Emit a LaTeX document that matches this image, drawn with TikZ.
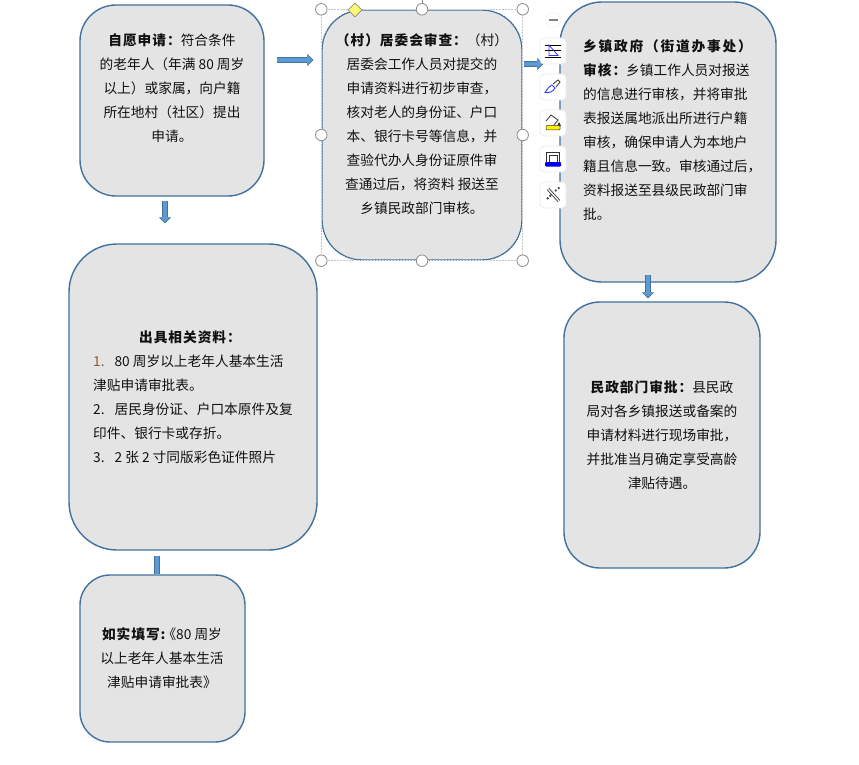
\documentclass[tikz,border=0pt]{standalone}
\usepackage{fontspec}
\setmainfont{Noto Sans CJK SC}
\usetikzlibrary{arrows.meta,shapes.geometric,calc}
\definecolor{boxfill}{HTML}{E4E4E4}
\definecolor{boxline}{HTML}{41719C}
\definecolor{arrowfill}{HTML}{5B9BD5}
\definecolor{handleline}{HTML}{8A8A8A}
\definecolor{ink}{HTML}{111111}
\newcommand{\boldrun}[1]{{\bfseries\addfontfeature{LetterSpace=7}#1}}
\newcommand{\boldwide}[1]{{\bfseries\addfontfeature{LetterSpace=13}#1}}
\tikzset{
  flowbox/.style={draw=boxline,fill=boxfill,line width=1.4pt,rounded corners=#1,inner sep=0pt},
  flowtext/.style={inner sep=0pt,text=ink,font=\fontsize{13.7}{24}\selectfont,align=center},
  lefttext/.style={flowtext,align=left,anchor=west},
  blockarrow/.style={draw=boxline,line width=0.7pt,double=arrowfill,double distance=3.8pt,
    -{Triangle[length=6pt,width=12pt,fill=arrowfill,line width=0.6pt]}},
  blockshaft/.style={draw=boxline,line width=0.7pt,double=arrowfill,double distance=3.8pt},
  handle/.style={circle,draw=handleline,fill=white,line width=0.8pt,minimum size=11.5pt,inner sep=0pt},
  toolbtn/.style={draw=black!7,fill=white,rounded corners=4pt,minimum size=26pt,inner sep=0pt,line width=0.8pt},
}
\begin{document}
\begin{tikzpicture}[x=1pt,y=-1pt]
\useasboundingbox (0,0) rectangle (859,765);
\fill[white] (0,0) rectangle (859,765);
% boxes
\node[flowbox=36pt,minimum width=184pt,minimum height=191pt] (a) at (172,100.5) {};
\node[flowbox=40pt,minimum width=200pt,minimum height=250pt] (b) at (422,135) {};
\node[flowbox=42pt,minimum width=216pt,minimum height=280pt] (c) at (668,142) {};
\node[flowbox=36pt,minimum width=196pt,minimum height=266pt] (d) at (662,435) {};
\node[flowbox=48pt,minimum width=248pt,minimum height=306pt] (e) at (193,397) {};
\node[flowbox=30pt,minimum width=165pt,minimum height=167pt] (f) at (162.5,658.5) {};
% arrows
\draw[blockarrow] ($(a.east)+(12,-40.5)$) -- ($(b.west)+(-8,-75)$);
\draw[blockarrow] ($(b.east)+(1,-71)$) -- ($(c.west)+(-16,-78)$);
\draw[blockarrow] ($(a.south)+(-7,4)$) -- ($(e.north)+(-28,-20)$);
\draw[blockarrow] ($(c.south)+(-20,-8)$) -- ($(d.north)+(-14,-3)$);
\draw[blockshaft] ($(e.south)+(-36,5)$) -- ($(f.north)+(-5.5,-0.7)$);
% texts
\node[flowtext] (ta) at (172,88) {\boldrun{自愿申请：}符合条件\\的老年人（年满 80 周岁\\以上）或家属，向户籍\\所在地村（社区）提出\\申请。};
\node[flowtext] (tb) at (422,124) {\boldrun{（村）居委会审查：}（村）\\居委会工作人员对提交的\\申请资料进行初步审查，\\核对老人的身份证、户口\\本、银行卡号等信息，并\\查验代办人身份证原件审\\查通过后，将资料 报送至\\乡镇民政部门审核。};
\node[lefttext] (tc) at (583,130) {\boldwide{乡镇政府（街道办事处）}\\\boldrun{审核：}乡镇工作人员对报送\\的信息进行审核，并将审批\\表报送属地派出所进行户籍\\审核，确保申请人为本地户\\籍且信息一致。审核通过后，\\资料报送至县级民政部门审\\批。};
\node[flowtext] (td) at (662,435) {\boldrun{民政部门审批：}县民政\\局对各乡镇报送或备案的\\申请材料进行现场审批，\\并批准当月确定享受高龄\\津贴待遇。};
\node[flowtext] (te0) at (190,337) {\boldrun{出具相关资料：}};
\node[lefttext] (te) at (93,409) {\textcolor{brown!70!black}{1.}\hspace{10pt}80 周岁以上老年人基本生活\\津贴申请审批表。\\2.\hspace{10pt}居民身份证、户口本原件及复\\印件、银行卡或存折。\\3.\hspace{10pt}2 张 2 寸同版彩色证件照片};
\node[flowtext] (tf) at (162,658.5) {\boldrun{如实填写:}\hspace{-3pt}《80 周岁\\以上老年人基本生活\\津贴申请审批表》};
% selection frame of the middle box
\draw[handleline!50,line width=0.5pt,densely dotted] (b.north west) rectangle (b.south east);
\draw[white,line width=0.7pt,dash pattern=on 1.5pt off 1.5pt,rounded corners=40pt] (b.north west) rectangle (b.south east);
\draw[handleline,line width=0.8pt] (b.north) -- ++(0,-10);
\foreach \p in {north west,north,north east,west,east,south west,south,south east}
  \node[handle] at (b.\p) {};
\node[diamond,draw=handleline,fill=yellow!55,minimum size=14pt,inner sep=0pt,line width=0.6pt] (hy) at (355,10) {};
% floating toolbar
\node[circle,fill=white,draw=black!7,minimum size=15pt,inner sep=0pt] (minus) at (553,20) {};
\draw[black!50,line width=1.2pt] ($(minus.center)+(-4.5,0)$) -- ($(minus.center)+(4.5,0)$);
\node[toolbtn] (t1) at (553,51) {};
\node[toolbtn] (t2) at (553,87) {};
\node[toolbtn] (t3) at (553,123) {};
\node[toolbtn] (t4) at (553,159) {};
\node[toolbtn] (t5) at (553,195) {};
% icon 1
\draw[black,line width=0.7pt] (545,45.5) -- (561,45.5) (545,50.5) -- (561,50.5) (545,57.5) -- (561,57.5);
\draw[blue!80,line width=0.8pt] (549,45) -- (549,55.5) -- (558,55.5) -- cycle;
% icon 2
\draw[black!80,line width=0.8pt] (553,84) -- (558,80) -- (560,82) -- (556,87);
\draw[blue!80,line width=0.9pt] (552,85) -- (555,88) .. controls (553,92) and (549,93) .. (545,92.5) .. controls (547,90) and (548,87) .. (552,85);
% icon 3
\draw[black!80,line width=0.8pt] (546,121) -- (551,115) -- (558,120) -- (554,125);
\fill[black!80] (559,122) -- (561,126) -- (557,126) -- cycle;
\draw[black!80,fill=yellow,line width=0.5pt,rounded corners=1pt] (546,125.5) rectangle (560,130);
% icon 4
\draw[black!80,line width=0.8pt] (546.5,163) -- (546.5,152.5) -- (559.5,152.5) -- (559.5,163) (549,163) -- (549,155) -- (557,155) -- (557,163);
\fill[blue!90!black,rounded corners=1pt] (545,162) rectangle (561,166.5);
% icon 5
\draw[black!75,line width=3pt] (548,189) -- (559,201);
\draw[white,line width=1.2pt] (548,189) -- (559,201);
\draw[black!75,line width=1.8pt,dotted] (547,199) -- (552,194) (555,191) -- (560,187);
\end{tikzpicture}
\end{document}
